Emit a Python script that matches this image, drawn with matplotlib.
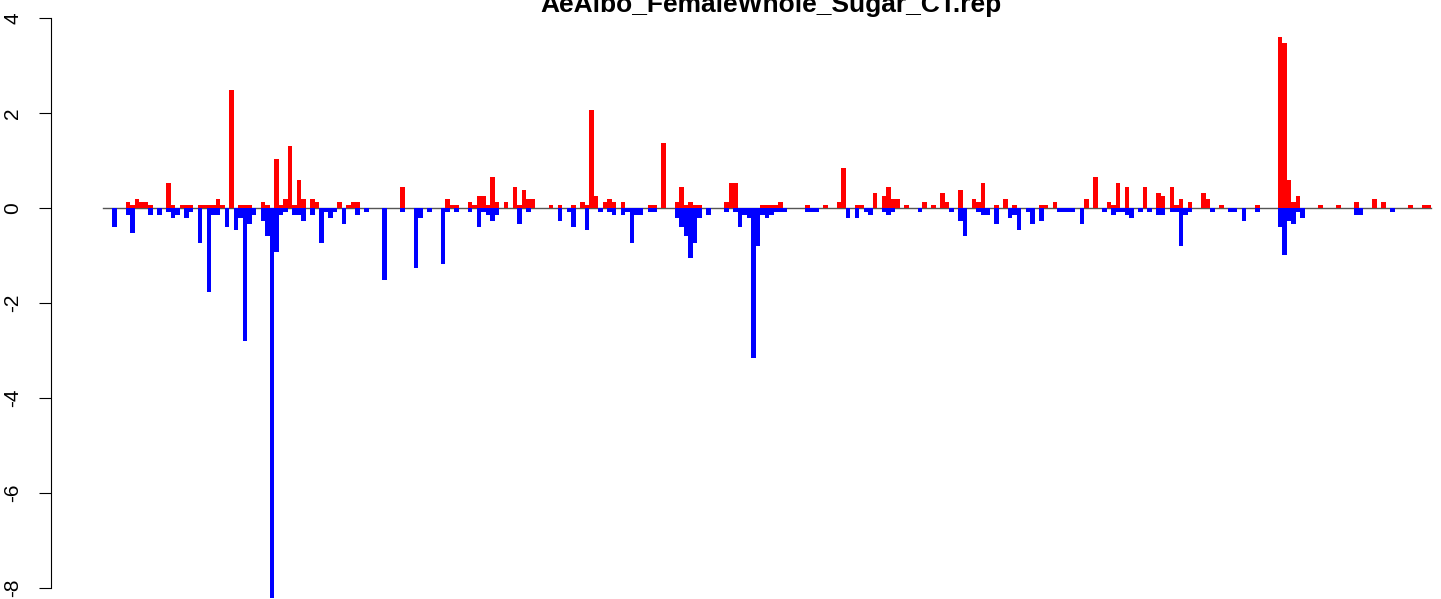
import matplotlib
matplotlib.use("Agg")
import matplotlib.pyplot as plt
import numpy as np

plt.rcParams['axes.unicode_minus'] = False
plt.rcParams['font.family'] = ['Liberation Sans', 'DejaVu Sans']

title = "AeAlbo_FemaleWhole_Sugar_CT.rep"

# positive values (red bars), one per window
red_vals = [
    0, 0, 0, 0, 0, 0.126, 0.063, 0.19, 0.126, 0.126,
    0.063, 0, 0, 0, 0.53, 0.063, 0, 0.063, 0.063, 0.063,
    0, 0.063, 0.063, 0.063, 0.063, 0.19, 0.063, 0, 2.48, 0,
    0.063, 0.063, 0.063, 0, 0, 0.126, 0.063, 0, 1.03, 0.063,
    0.19, 1.31, 0.063, 0.59, 0.19, 0, 0.19, 0.126, 0, 0,
    0, 0, 0.126, 0, 0.063, 0.126, 0.126, 0, 0, 0,
    0, 0, 0, 0, 0, 0, 0.44, 0, 0, 0,
    0, 0, 0, 0, 0, 0, 0.19, 0.063, 0.063, 0,
    0, 0.126, 0.063, 0.25, 0.25, 0.063, 0.65, 0.126, 0, 0.126,
    0, 0.44, 0.063, 0.38, 0.19, 0.19, 0, 0, 0, 0.063,
    0, 0.063, 0, 0, 0.063, 0, 0.126, 0.063, 2.07, 0.25,
    0, 0.126, 0.19, 0.126, 0, 0.126, 0, 0, 0, 0,
    0, 0.063, 0.063, 0, 1.37, 0, 0, 0.126, 0.44, 0.063,
    0.126, 0.063, 0.063, 0, 0, 0, 0, 0, 0.126, 0.53,
    0.53, 0, 0, 0, 0, 0, 0.063, 0.063, 0.063, 0.063,
    0.126, 0, 0, 0, 0, 0, 0.063, 0, 0, 0,
    0.063, 0, 0, 0.126, 0.84, 0, 0, 0.063, 0.063, 0,
    0, 0.32, 0, 0.25, 0.44, 0.19, 0.19, 0, 0.063, 0,
    0, 0, 0.126, 0, 0.063, 0, 0.32, 0.126, 0, 0,
    0.38, 0, 0, 0.19, 0.126, 0.53, 0, 0, 0.063, 0,
    0.19, 0, 0.063, 0, 0, 0, 0, 0, 0.063, 0.063,
    0, 0.126, 0, 0, 0, 0, 0, 0, 0.19, 0,
    0.65, 0, 0, 0.126, 0.063, 0.53, 0, 0.44, 0, 0,
    0, 0.44, 0, 0, 0.32, 0.25, 0, 0.44, 0.063, 0.19,
    0, 0.126, 0, 0, 0.32, 0.19, 0, 0, 0.063, 0,
    0, 0, 0, 0, 0, 0, 0.063, 0, 0, 0,
    0, 3.6, 3.47, 0.59, 0.126, 0.25, 0, 0, 0, 0,
    0.063, 0, 0, 0, 0.063, 0, 0, 0, 0.126, 0,
    0, 0, 0.19, 0, 0.126, 0, 0, 0, 0, 0,
    0.063, 0, 0, 0.063, 0.063,
]

# negative values (blue bars), one per window
blue_vals = [
    0, 0, -0.39, 0, 0, -0.14, -0.52, 0, 0, 0,
    -0.14, 0, -0.14, 0, -0.077, -0.2, -0.14, 0, -0.2, -0.077,
    0, -0.73, 0, -1.76, -0.14, -0.14, 0, -0.39, 0, -0.46,
    -0.2, -2.8, -0.33, -0.14, 0, -0.27, -0.58, -8.2, -0.92, -0.14,
    -0.077, 0, -0.14, -0.14, -0.27, 0, -0.14, 0, -0.73, -0.077,
    -0.2, -0.077, 0, -0.33, 0, 0, -0.14, 0, -0.077, 0,
    0, 0, -1.52, 0, 0, 0, -0.077, 0, 0, -1.26,
    -0.2, 0, -0.077, 0, 0, -1.17, -0.077, 0, -0.077, 0,
    0, -0.077, 0, -0.39, -0.077, -0.14, -0.27, -0.14, 0, 0,
    0, 0, -0.33, 0, -0.077, 0, 0, 0, 0, 0,
    0, -0.27, 0, -0.077, -0.39, 0, 0, -0.46, 0, 0,
    -0.077, 0, -0.077, -0.14, 0, -0.14, -0.077, -0.73, -0.14, -0.14,
    0, -0.077, -0.077, 0, 0, 0, 0, -0.2, -0.39, -0.58,
    -1.05, -0.73, -0.2, 0, -0.14, 0, 0, 0, -0.077, 0,
    -0.077, -0.39, -0.14, -0.2, -3.15, -0.79, -0.14, -0.2, -0.14, -0.077,
    -0.077, -0.077, 0, 0, 0, 0, -0.077, -0.077, -0.077, 0,
    0, 0, 0, 0, 0, -0.2, 0, -0.2, 0, -0.077,
    -0.14, 0, 0, -0.077, -0.14, -0.077, 0, 0, 0, 0,
    0, -0.077, 0, 0, 0, 0, 0, 0, -0.077, 0,
    -0.27, -0.58, 0, 0, -0.077, -0.14, -0.14, 0, -0.33, 0,
    0, -0.2, -0.14, -0.46, 0, -0.077, -0.33, 0, -0.27, 0,
    0, 0, -0.077, -0.077, -0.077, -0.077, 0, -0.33, 0, 0,
    0, 0, -0.077, 0, -0.14, -0.077, -0.077, -0.14, -0.2, 0,
    -0.077, 0, -0.077, 0, -0.14, -0.14, 0, -0.077, -0.077, -0.79,
    -0.14, -0.077, 0, 0, 0, 0, -0.077, 0, 0, 0,
    -0.077, -0.077, 0, -0.27, 0, 0, -0.077, 0, 0, 0,
    0, -0.39, -0.98, -0.27, -0.33, -0.077, -0.2, 0, 0, 0,
    0, 0, 0, 0, 0, 0, 0, 0, -0.14, -0.14,
    0, 0, 0, 0, 0, 0, -0.077, 0, 0, 0,
    0, 0, 0, 0, 0,
]

y_ticks = [-8, -6, -4, -2, 0, 2, 4]

W, H = 1441, 599
fig = plt.figure(figsize=(W / 100, H / 100), dpi=100)

# pixel geometry of the plotting region
ax_left_px = 51
bar0_px = 103.3
pitch_px = 4.5
ax = fig.add_axes([ax_left_px / W, 0, 1 - ax_left_px / W, 1])

n = len(red_vals)
idx = np.arange(n)
ax.bar(idx, red_vals, width=1.0, align='edge', color='#FF0000', linewidth=0, zorder=2)
ax.bar(idx, blue_vals, width=1.0, align='edge', color='#0000FF', linewidth=0, zorder=2)
ax.plot([0, n], [0, 0], color='#555555', lw=1.0, zorder=1)

# map limits so the layout matches the reference
xl = (ax_left_px - bar0_px) / pitch_px
xr = (W - bar0_px) / pitch_px
ax.set_xlim(xl, xr)
px_per_unit = 47.5
y0_px = 208
ax.set_ylim(-(H - y0_px) / px_per_unit, y0_px / px_per_unit)

for s in ['top', 'right', 'bottom']:
    ax.spines[s].set_visible(False)
ax.spines['left'].set_bounds(-8, 4)
ax.spines['left'].set_linewidth(0.8)
ax.set_xticks([])
ax.set_yticks(y_ticks)
ax.set_yticklabels([str(t) for t in y_ticks], rotation=90, va='center', ha='center')
ax.tick_params(axis='y', length=8.6, width=0.8, pad=19, labelsize=15)

fig.text(771 / W, 1 - 12 / H, title, ha='center', va='baseline',
         fontsize=19, fontweight='bold')

fig.savefig('out.png', dpi=100)
